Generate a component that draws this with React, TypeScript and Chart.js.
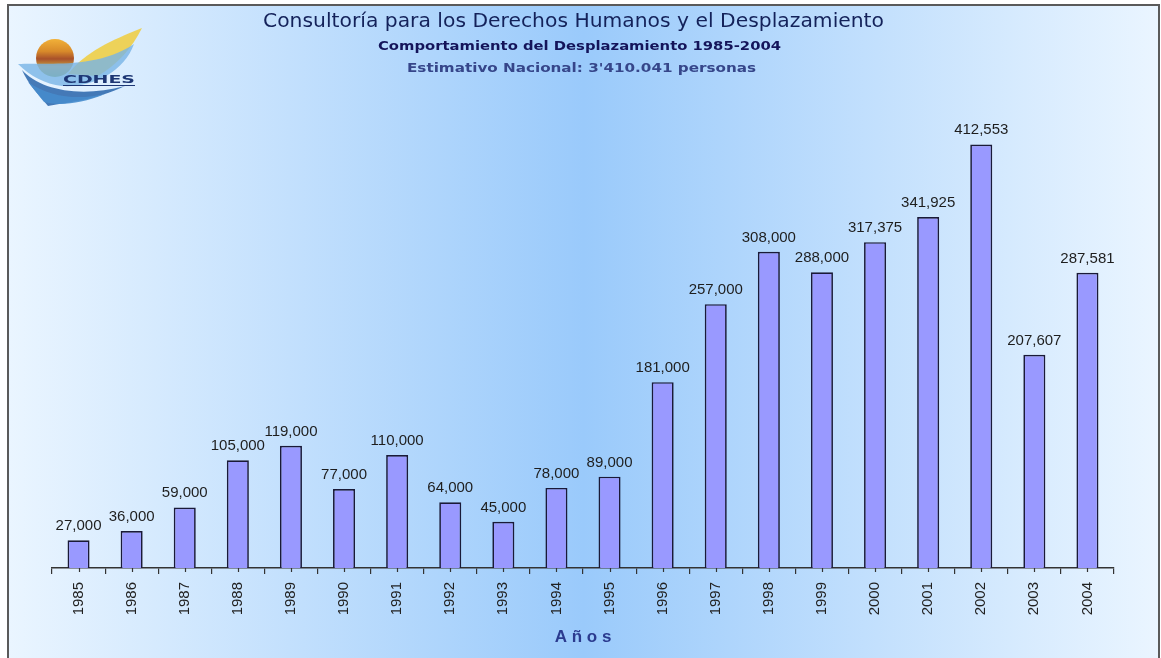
import { useEffect, useRef } from "react";
import { Chart, registerables } from "chart.js";

Chart.register(...registerables);

const years = [
  "1985", "1986", "1987", "1988", "1989", "1990", "1991", "1992", "1993", "1994",
  "1995", "1996", "1997", "1998", "1999", "2000", "2001", "2002", "2003", "2004",
];
const displaced = [
  27000, 36000, 59000, 105000, 119000, 77000, 110000, 64000, 45000, 78000,
  89000, 181000, 257000, 308000, 288000, 317375, 341925, 412553, 207607, 287581,
];
const titleMain = "Consultoría para los Derechos Humanos y el Desplazamiento";
const titleSub = "Comportamiento del Desplazamiento 1985-2004";
const titleNote = "Estimativo Nacional: 3'410.041 personas";
const axisTitle = "A ñ o s";
const logoText = "CDHES";
const yMax = 450000;

function drawFitted(
  ctx: CanvasRenderingContext2D,
  text: string,
  cx: number,
  baseline: number,
  width: number,
  font: string,
  color: string
) {
  ctx.save();
  ctx.font = font;
  ctx.fillStyle = color;
  ctx.textAlign = "left";
  ctx.textBaseline = "alphabetic";
  const w = ctx.measureText(text).width;
  ctx.translate(cx - width / 2, baseline);
  ctx.scale(width / w, 1);
  ctx.fillText(text, 0, 0);
  ctx.restore();
}

function drawLogo(ctx: CanvasRenderingContext2D) {
  ctx.save();
  // yellow feather
  ctx.beginPath();
  ctx.moveTo(68, 74);
  ctx.bezierCurveTo(85, 52, 112, 40, 142, 28);
  ctx.bezierCurveTo(132, 48, 118, 64, 98, 76);
  ctx.closePath();
  ctx.fillStyle = "rgba(240, 205, 60, 0.85)";
  ctx.fill();
  // sun
  const g = ctx.createLinearGradient(0, 38, 0, 76);
  g.addColorStop(0, "#f3b43a");
  g.addColorStop(0.35, "#d88a2a");
  g.addColorStop(0.55, "#a8502a");
  g.addColorStop(0.75, "#c8a040");
  g.addColorStop(1, "#90a040");
  ctx.beginPath();
  ctx.arc(55, 58, 19, 0, Math.PI * 2);
  ctx.fillStyle = g;
  ctx.fill();
  // light blue band
  ctx.beginPath();
  ctx.moveTo(18, 64);
  ctx.bezierCurveTo(45, 62, 95, 70, 134, 44);
  ctx.bezierCurveTo(124, 72, 92, 88, 62, 86);
  ctx.bezierCurveTo(45, 84, 30, 76, 18, 64);
  ctx.closePath();
  ctx.fillStyle = "rgba(120, 180, 230, 0.8)";
  ctx.fill();
  // dark blue swoosh
  ctx.beginPath();
  ctx.moveTo(22, 70);
  ctx.bezierCurveTo(40, 90, 80, 98, 125, 86);
  ctx.bezierCurveTo(95, 100, 70, 102, 48, 106);
  ctx.bezierCurveTo(38, 94, 28, 84, 22, 70);
  ctx.closePath();
  ctx.fillStyle = "rgba(40, 100, 170, 0.85)";
  ctx.fill();
  // mid blue swoosh
  ctx.beginPath();
  ctx.moveTo(28, 82);
  ctx.bezierCurveTo(50, 98, 80, 100, 105, 94);
  ctx.bezierCurveTo(80, 104, 60, 106, 44, 102);
  ctx.closePath();
  ctx.fillStyle = "rgba(70, 140, 205, 0.9)";
  ctx.fill();
  ctx.restore();
  drawFitted(ctx, logoText, 99, 83, 72, "bold 11px 'DejaVu Sans'", "#1d3674");
  ctx.save();
  ctx.strokeStyle = "#1d3674";
  ctx.lineWidth = 1.2;
  ctx.beginPath();
  ctx.moveTo(63, 85.5);
  ctx.lineTo(135, 85.5);
  ctx.stroke();
  ctx.restore();
}

const headerPlugin = {
  id: "header",
  beforeDraw(chart: any) {
    const ctx = chart.ctx as CanvasRenderingContext2D;
    drawLogo(ctx);
    drawFitted(ctx, titleMain, 573.5, 27, 621, "20px 'DejaVu Sans'", "#14225a");
    drawFitted(ctx, titleSub, 579.5, 49.5, 403, "bold 12px 'DejaVu Sans'", "#14145a");
    drawFitted(ctx, titleNote, 581.5, 72, 349, "bold 12px 'DejaVu Sans'", "#36468a");
  },
};

const valueLabelPlugin = {
  id: "valueLabels",
  afterDatasetsDraw(chart: any) {
    const ctx = chart.ctx as CanvasRenderingContext2D;
    const meta = chart.getDatasetMeta(0);
    const data = chart.data.datasets[0].data as number[];
    ctx.save();
    ctx.font = "15px 'Liberation Sans'";
    ctx.fillStyle = "#1e1e1e";
    ctx.textAlign = "center";
    ctx.textBaseline = "alphabetic";
    meta.data.forEach((bar: any, i: number) => {
      ctx.fillText(data[i].toLocaleString("en-US"), bar.x, bar.y - 10);
    });
    ctx.restore();
  },
};

const centerTickPlugin = {
  id: "centerTicks",
  afterDraw(chart: any) {
    const ctx = chart.ctx as CanvasRenderingContext2D;
    const meta = chart.getDatasetMeta(0);
    const bottom = chart.chartArea.bottom;
    ctx.save();
    ctx.strokeStyle = "#333";
    ctx.lineWidth = 1.2;
    meta.data.forEach((bar: any) => {
      const x = Math.round(bar.x) + 0.5;
      ctx.beginPath();
      ctx.moveTo(x, bottom);
      ctx.lineTo(x, bottom + 4);
      ctx.stroke();
    });
    ctx.restore();
  },
};

export default function App() {
  const ref = useRef<HTMLCanvasElement>(null);
  useEffect(() => {
    const chart = new Chart(ref.current as HTMLCanvasElement, {
      type: "bar",
      data: {
        labels: years,
        datasets: [
          {
            data: displaced,
            backgroundColor: "#9999ff",
            borderColor: "#1a1a38",
            borderWidth: 1.7,
            barPercentage: 0.415,
            categoryPercentage: 1,
          },
        ],
      },
      options: {
        animation: false,
        responsive: true,
        maintainAspectRatio: false,
        layout: { padding: { top: 106, left: 52, right: 47, bottom: 0 } },
        plugins: {
          legend: { display: false },
          tooltip: { enabled: false },
        },
        scales: {
          x: {
            afterFit: (s: any) => {
              s.height = 90;
            },
            grid: {
              display: true,
              drawOnChartArea: false,
              drawTicks: true,
              tickLength: 6,
              color: "#333",
              lineWidth: 1.2,
              offset: true,
            },
            border: { display: true, color: "#333", width: 1.5 },
            ticks: {
              color: "#222",
              font: { family: "'Liberation Sans'", size: 15 },
              maxRotation: 90,
              minRotation: 90,
              padding: 8,
              autoSkip: false,
            },
            title: {
              display: true,
              text: axisTitle,
              color: "#2b3b8f",
              font: { family: "'Liberation Sans'", size: 17, weight: "bold" },
              padding: { top: 0, bottom: 10 },
            },
          },
          y: { display: false, min: 0, max: yMax },
        },
      },
      plugins: [headerPlugin, valueLabelPlugin, centerTickPlugin],
    });
    return () => chart.destroy();
  }, []);

  return (
    <div
      style={{
        position: "fixed",
        left: 0,
        top: 0,
        width: 1161,
        height: 658,
        background: "#ffffff",
        overflow: "hidden",
      }}
    >
      <div
        style={{
          position: "absolute",
          left: 7,
          top: 4,
          width: 1149,
          height: 670,
          borderTop: "2px solid #5a5a5a",
          borderLeft: "2px solid #5a5a5a",
          borderRight: "2px solid #5a5a5a",
          background: "linear-gradient(to right, #eaf5ff 0%, #9acafb 50%, #eaf5ff 100%)",
        }}
      />
      <div style={{ position: "absolute", left: 0, top: 0, width: 1161, height: 658 }}>
        <canvas ref={ref} />
      </div>
    </div>
  );
}
